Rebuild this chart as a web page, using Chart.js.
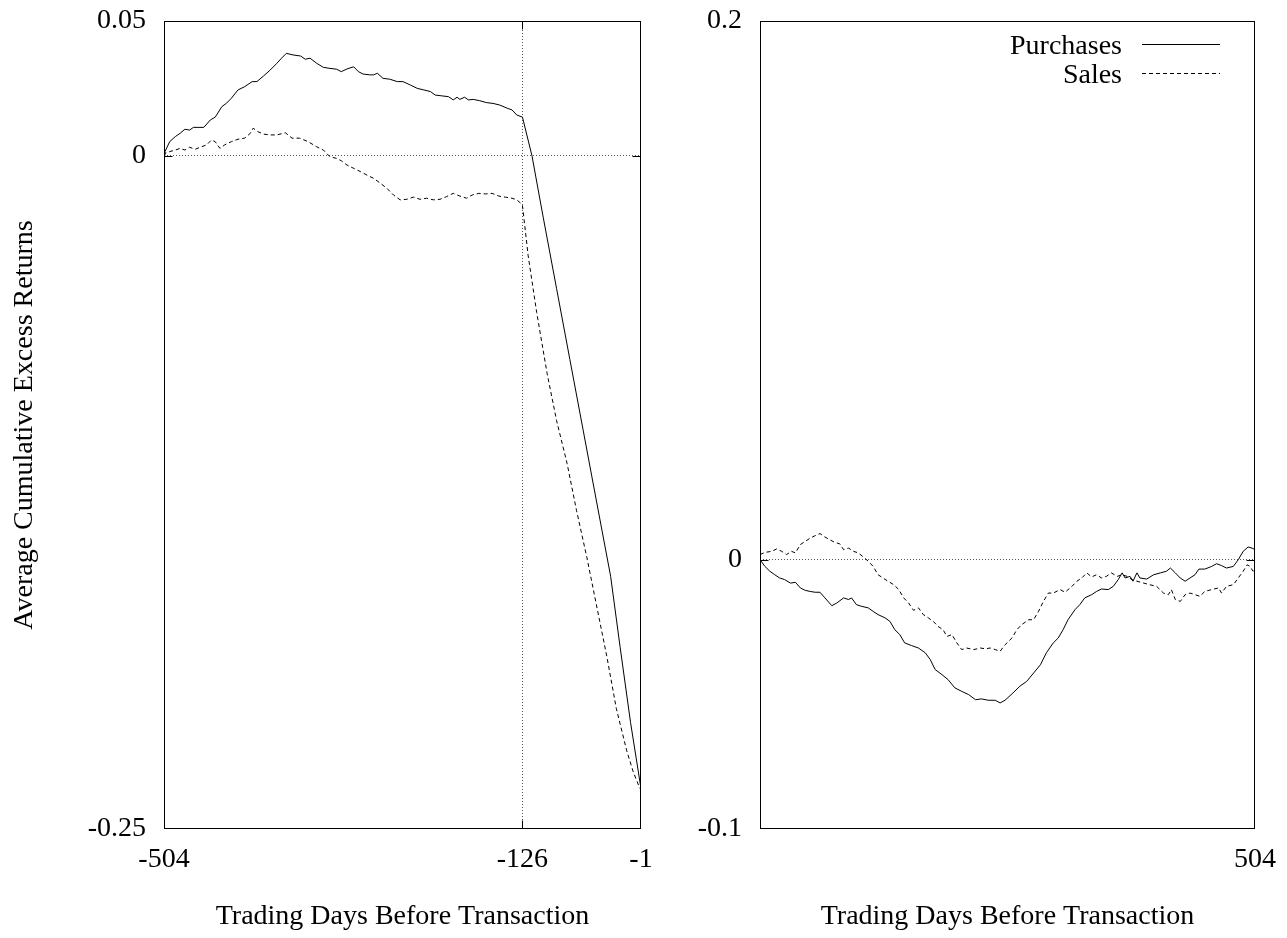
<!DOCTYPE html>
<html><head><meta charset="utf-8">
<script src="https://cdn.jsdelivr.net/npm/chart.js@4.4.0/dist/chart.umd.min.js"></script>
<style>
html,body{margin:0;padding:0;background:#fff;}
#wrap{position:relative;width:1287px;height:938px;overflow:hidden;background:#fff;}
canvas{position:absolute;top:0;}
#cA{left:0;} #cB{left:690px;}
</style></head><body>
<div id="wrap"><canvas id="cA" width="690" height="938"></canvas><canvas id="cB" width="597" height="938"></canvas></div>
<script>
const seriesLabels = ['Purchases', 'Sales'];
const xTitleText = 'Trading Days Before Transaction';
const yTitleText = 'Average Cumulative Excess Returns';
const leftXTicks = [-504, -126, -1];
const leftYTicks = [-0.25, 0, 0.05];
const rightXTicks = [504];
const rightYTicks = [-0.1, 0, 0.2];
const leftRefX = [-126];
const refY = [0];

const leftPurchDays = [-504,-503,-498,-492,-487,-482,-477,-473,-468,-462,-455,-450,-443,-438,-433,-426,-419,-411,-406,-399,-392,-385,-380,-375,-368,-360,-355,-350,-343,-336,-329,-322,-317,-311,-304,-299,-294,-287,-283,-279,-273,-266,-258,-252,-244,-237,-230,-223,-218,-211,-204,-199,-195,-192,-187,-183,-178,-171,-164,-157,-150,-142,-137,-132,-126,-116,-104,-90,-76,-62,-48,-33,-23,-12,-1];
const leftPurchVals = [0,0.0015,0.0052,0.0071,0.0083,0.0098,0.0095,0.0105,0.0105,0.0105,0.0133,0.0143,0.0182,0.0195,0.0213,0.0244,0.0256,0.0275,0.0275,0.0296,0.0318,0.0343,0.0362,0.038,0.0374,0.037,0.0358,0.0362,0.0343,0.0328,0.0324,0.0321,0.0312,0.0322,0.033,0.0312,0.0303,0.03,0.03,0.0306,0.0287,0.0284,0.0275,0.0275,0.0262,0.025,0.0244,0.0238,0.0225,0.0222,0.0219,0.0207,0.0217,0.0209,0.0217,0.0207,0.0209,0.0204,0.0197,0.0194,0.0188,0.0176,0.017,0.0151,0.0143,0,-0.0231,-0.0494,-0.0757,-0.1019,-0.1282,-0.1562,-0.1825,-0.2105,-0.235];

const leftSalesDays = [-504,-503,-498,-492,-487,-482,-477,-471,-466,-459,-454,-450,-445,-440,-433,-426,-419,-413,-410,-405,-399,-392,-385,-376,-369,-361,-352,-343,-336,-329,-322,-317,-311,-304,-297,-290,-283,-276,-269,-262,-255,-248,-241,-234,-227,-220,-213,-206,-199,-192,-185,-179,-172,-165,-158,-151,-144,-137,-132,-127,-126,-120,-111,-100,-90,-79,-69,-58,-48,-37,-27,-16,-9,-3,-1];
const leftSalesVals = [0,0.0009,0.0015,0.0021,0.0027,0.0021,0.0031,0.0024,0.0031,0.004,0.0058,0.0052,0.0027,0.004,0.0052,0.0061,0.0065,0.0083,0.0102,0.0089,0.008,0.0077,0.0077,0.0085,0.0065,0.0065,0.0052,0.0033,0.0021,-0.0004,-0.001,-0.0019,-0.0035,-0.0047,-0.0059,-0.0072,-0.0084,-0.0102,-0.0121,-0.0146,-0.0164,-0.0162,-0.0154,-0.0162,-0.0158,-0.0164,-0.0162,-0.0152,-0.014,-0.015,-0.0158,-0.0146,-0.014,-0.0142,-0.014,-0.015,-0.0154,-0.0158,-0.0164,-0.0179,-0.0185,-0.0371,-0.0582,-0.0809,-0.0984,-0.1142,-0.1317,-0.1493,-0.1668,-0.186,-0.2053,-0.221,-0.229,-0.2342,-0.2355];

const rightPurchDays = [1,6,11,16,21,26,32,37,42,47,52,57,62,67,74,79,86,91,94,99,104,111,116,121,128,133,138,143,148,155,162,169,174,179,186,192,199,206,213,220,226,233,240,245,250,258,265,272,279,286,292,299,304,309,314,321,326,331,338,343,348,355,360,365,369,372,377,380,384,387,394,401,408,414,418,423,428,433,438,443,447,453,460,465,470,475,482,487,492,497,501,504];
const rightPurchVals = [0,-0.0025,-0.0043,-0.0056,-0.0068,-0.0074,-0.0087,-0.0084,-0.0105,-0.0114,-0.0118,-0.0121,-0.0121,-0.0142,-0.0171,-0.0161,-0.0142,-0.0148,-0.0142,-0.0167,-0.0173,-0.0179,-0.0192,-0.0204,-0.0216,-0.0229,-0.026,-0.0278,-0.0309,-0.0319,-0.0328,-0.0346,-0.0371,-0.0408,-0.0427,-0.0445,-0.0476,-0.0489,-0.0501,-0.052,-0.0517,-0.0522,-0.0522,-0.0532,-0.0522,-0.0495,-0.047,-0.0452,-0.0421,-0.039,-0.0346,-0.0309,-0.0291,-0.026,-0.0223,-0.0186,-0.0167,-0.0142,-0.013,-0.0118,-0.0109,-0.0111,-0.0099,-0.0074,-0.0049,-0.0068,-0.0062,-0.008,-0.0049,-0.0068,-0.0072,-0.0056,-0.0049,-0.0043,-0.0031,-0.0049,-0.0068,-0.008,-0.0068,-0.0056,-0.0035,-0.0035,-0.0025,-0.0015,-0.0022,-0.0031,-0.0025,0,0.0031,0.0047,0.0043,0.0037];

const rightSalesDays = [1,6,13,18,23,28,33,37,42,47,52,57,62,67,72,77,82,86,91,96,101,106,111,116,121,126,131,137,142,147,152,157,162,167,172,177,182,187,191,196,201,206,211,218,225,230,235,240,245,250,257,262,267,274,279,284,289,294,299,306,311,318,323,328,333,338,343,348,353,358,364,369,374,379,384,391,397,404,411,416,419,423,428,433,438,443,448,453,460,467,470,475,482,487,492,496,499,502,504];
const rightSalesVals = [0.0019,0.0027,0.0031,0.004,0.0031,0.0019,0.0031,0.0025,0.0056,0.0068,0.008,0.0089,0.0097,0.0084,0.0074,0.0064,0.0059,0.0037,0.0043,0.0031,0.0025,0.001,-0.0006,-0.0025,-0.0056,-0.0068,-0.008,-0.0093,-0.0111,-0.0142,-0.0161,-0.0188,-0.0179,-0.0204,-0.0216,-0.0229,-0.0248,-0.026,-0.0285,-0.0278,-0.0309,-0.0334,-0.0328,-0.0334,-0.0328,-0.0331,-0.0328,-0.0334,-0.034,-0.0316,-0.0291,-0.026,-0.0241,-0.0223,-0.0223,-0.0192,-0.0155,-0.0124,-0.0124,-0.0111,-0.0121,-0.0099,-0.008,-0.0068,-0.0049,-0.0064,-0.0056,-0.0068,-0.0062,-0.0049,-0.0062,-0.0056,-0.0062,-0.0074,-0.008,-0.0087,-0.0093,-0.0099,-0.0124,-0.013,-0.0111,-0.0148,-0.0155,-0.013,-0.0124,-0.013,-0.0136,-0.0118,-0.0111,-0.0105,-0.0124,-0.0099,-0.0093,-0.0068,-0.0043,-0.0019,-0.0025,-0.0043,-0.0037];

const FONT = '"Liberation Serif", "Times New Roman", serif';
const INK = '#000';
const dashSales = [4, 3];

function pts(days, vals) { return days.map((d, i) => ({ x: d, y: vals[i] })); }

const framePlugin = {
  id: 'frame',
  afterDatasetsDraw(chart, args, opts) {
    const { ctx, chartArea: a, scales } = chart;
    const L = Math.round(a.left) + 0.5, R = Math.round(a.right) - 0.5;
    const T = Math.round(a.top) + 0.5, B = Math.round(a.bottom) - 0.5;
    ctx.save();
    ctx.setLineDash([]);
    ctx.strokeStyle = INK;
    ctx.lineWidth = 1;
    ctx.strokeRect(L, T, R - L, B - T);
    const len = 8;
    ctx.beginPath();
    (opts.xMarks || []).forEach(v => {
      const p = Math.round(scales.x.getPixelForValue(v)) + 0.5;
      ctx.moveTo(p, T); ctx.lineTo(p, T + len);
      ctx.moveTo(p, B); ctx.lineTo(p, B - len);
    });
    (opts.yMarks || []).forEach(v => {
      const p = Math.round(scales.y.getPixelForValue(v)) + 0.5;
      ctx.moveTo(L, p); ctx.lineTo(L + len, p);
      ctx.moveTo(R, p); ctx.lineTo(R - len, p);
    });
    ctx.stroke();
    ctx.restore();
  }
};

const legendPlugin = {
  id: 'keyBox',
  afterDraw(chart, args, opts) {
    if (!opts.show) return;
    const { ctx, chartArea: a } = chart;
    ctx.save();
    ctx.font = '28px ' + FONT;
    ctx.fillStyle = INK;
    ctx.strokeStyle = INK;
    ctx.lineWidth = 1;
    ctx.textAlign = 'right';
    ctx.textBaseline = 'alphabetic';
    chart.data.datasets.forEach((ds, i) => {
      const ly = Math.round(a.top + 23 + i * 28.5) + 0.5;
      ctx.setLineDash([]);
      ctx.fillText(ds.label, a.right - 133, ly + 9.5);
      ctx.setLineDash(ds.borderDash || []);
      ctx.beginPath();
      ctx.moveTo(a.right - 113, ly);
      ctx.lineTo(a.right - 35, ly);
      ctx.stroke();
    });
    ctx.restore();
  }
};

function makeChart(id, cfg) {
  const tickFont = { family: FONT, size: 28 };
  return new Chart(document.getElementById(id), {
    type: 'line',
    data: {
      datasets: [
        { label: seriesLabels[0], data: cfg.purch, borderColor: INK, borderWidth: 1, pointRadius: 0, tension: 0, fill: false },
        { label: seriesLabels[1], data: cfg.sales, borderColor: INK, borderWidth: 1, borderDash: dashSales, pointRadius: 0, tension: 0, fill: false }
      ]
    },
    options: {
      responsive: false,
      devicePixelRatio: 1,
      animation: false,
      events: [],
      layout: { padding: { top: 21, right: cfg.padRight, bottom: 0, left: 0 } },
      plugins: {
        legend: { display: false },
        tooltip: { enabled: false },
        frame: { xMarks: cfg.xMarks, yMarks: refY },
        keyBox: { show: cfg.showKey }
      },
      scales: {
        x: {
          type: 'linear',
          min: cfg.xMin, max: cfg.xMax,
          afterBuildTicks: s => { s.ticks = cfg.xTicks.map(v => ({ value: v })); },
          afterFit: s => { s.height = 109; s.paddingLeft = 0; s.paddingRight = 0; s.paddingTop = 0; s.paddingBottom = 0; },
          ticks: { autoSkip: false, maxRotation: 0, minRotation: 0, padding: 14, color: INK, font: tickFont, callback: v => String(v) },
          grid: {
            drawTicks: false,
            lineWidth: 1,
            color: c => (c.tick && cfg.xMarks.includes(c.tick.value)) ? '#555' : 'rgba(0,0,0,0)'
          },
          border: { display: false, dash: [1, 2] },
          title: { display: true, text: xTitleText, color: INK, font: tickFont, padding: { top: 0, bottom: 5 } }
        },
        y: {
          type: 'linear',
          min: cfg.yTicks[0], max: cfg.yTicks[cfg.yTicks.length - 1],
          afterBuildTicks: s => { s.ticks = cfg.yTicks.map(v => ({ value: v })); },
          afterFit: s => { s.width = cfg.yWidth; s.paddingLeft = 0; s.paddingRight = 0; s.paddingTop = 0; s.paddingBottom = 0; },
          ticks: { autoSkip: false, padding: 18, color: INK, font: tickFont, callback: v => String(v) },
          grid: {
            drawTicks: false,
            lineWidth: 1,
            color: c => (c.tick && refY.includes(c.tick.value)) ? '#555' : 'rgba(0,0,0,0)'
          },
          border: { display: false, dash: [1, 2] },
          title: { display: cfg.yTitle, text: yTitleText, color: INK, font: tickFont, padding: { top: 8, bottom: 0 } }
        }
      }
    },
    plugins: [framePlugin, legendPlugin]
  });
}

makeChart('cA', {
  purch: pts(leftPurchDays, leftPurchVals),
  sales: pts(leftSalesDays, leftSalesVals),
  xMin: leftXTicks[0], xMax: leftXTicks[leftXTicks.length - 1],
  xTicks: leftXTicks, yTicks: leftYTicks, xMarks: leftRefX,
  yWidth: 164, padRight: 49, yTitle: true, showKey: false
});
makeChart('cB', {
  purch: pts(rightPurchDays, rightPurchVals),
  sales: pts(rightSalesDays, rightSalesVals),
  xMin: 1, xMax: rightXTicks[rightXTicks.length - 1],
  xTicks: rightXTicks, yTicks: rightYTicks, xMarks: [],
  yWidth: 70, padRight: 32, yTitle: false, showKey: true
});
</script>
</body></html>
